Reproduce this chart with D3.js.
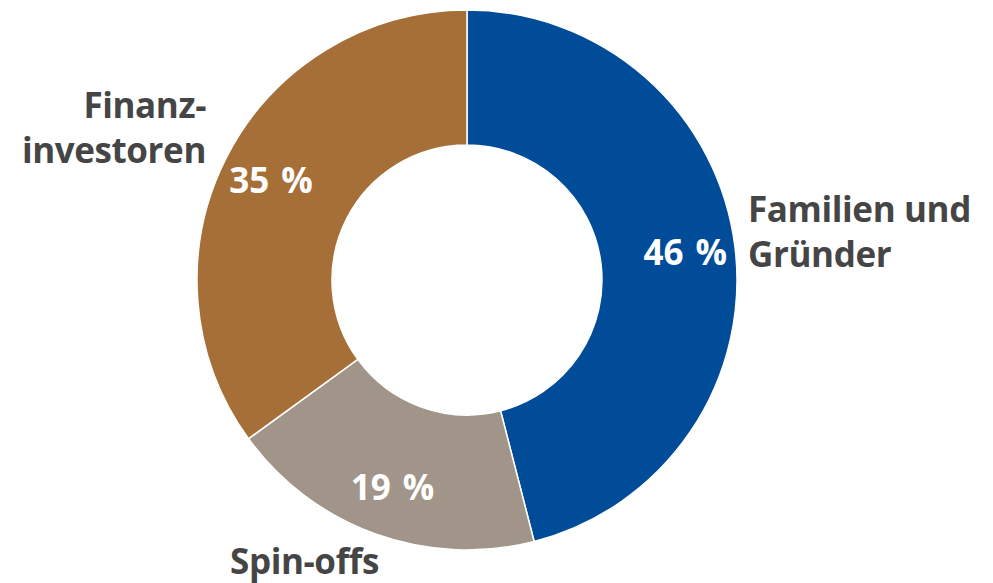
<!DOCTYPE html>
<html>
<head>
<meta charset="utf-8">
<script src="https://cdn.jsdelivr.net/npm/d3@7"></script>
<style>
  html, body { margin: 0; padding: 0; background: #fff; }
  svg { display: block; }
  text { font-family: "Open Sans", "Noto Sans", sans-serif; font-weight: 700; }
</style>
</head>
<body>
<svg id="chart" width="993" height="583"></svg>
<script>
// Eigentümerstruktur – Anteile in Prozent
const categories = ["Familien und Gründer", "Spin-offs", "Finanzinvestoren"];
const values = [46, 19, 35];
const colors = ["#004C99", "#A09588", "#A66F38"];
// Beschriftungszeilen je Kategorie
const labelLines = [["Familien und", "Gründer"], ["Spin-offs"], ["Finanz-", "investoren"]];

const width = 993, height = 583;
const cx = 467, cy = 280;
const outerR = 270, innerR = 135;

const svg = d3.select("#chart");
const g = svg.append("g").attr("transform", `translate(${cx},${cy})`);

const pie = d3.pie().sort(null).value(d => d)(values);
const arc = d3.arc().innerRadius(innerR).outerRadius(outerR);
const labelArc = d3.arc().innerRadius(220).outerRadius(220);

g.selectAll("path.slice")
  .data(pie)
  .join("path")
  .attr("class", "slice")
  .attr("d", arc)
  .attr("fill", (d, i) => colors[i])
  .attr("stroke", "#fff")
  .attr("stroke-width", 1.5);

// Prozentwerte innerhalb der Segmente
g.selectAll("text.value")
  .data(pie)
  .join("text")
  .attr("class", "value")
  .attr("transform", d => `translate(${labelArc.centroid(d)})`)
  .attr("text-anchor", "middle")
  .attr("dy", "0.36em")
  .attr("fill", "#fff")
  .attr("font-size", 35)
  .attr("word-spacing", 3)
  .text(d => `${d.value} %`);

// Kategorienamen außerhalb des Rings
const outside = [
  { x: 281, y: -58, anchor: "start" },
  { x: -237, y: 294, anchor: "start" },
  { x: -261, y: -162, anchor: "end" }
];
const lineH = 45;
categories.forEach((c, i) => {
  const t = g.append("text")
    .attr("class", "cat")
    .attr("x", outside[i].x)
    .attr("y", outside[i].y)
    .attr("text-anchor", outside[i].anchor)
    .attr("fill", "#454545")
    .attr("font-size", 35)
    .attr("letter-spacing", -0.4);
  labelLines[i].forEach((ln, k) => {
    t.append("tspan").attr("x", outside[i].x).attr("y", outside[i].y + k * lineH).text(ln);
  });
});
</script>
</body>
</html>
